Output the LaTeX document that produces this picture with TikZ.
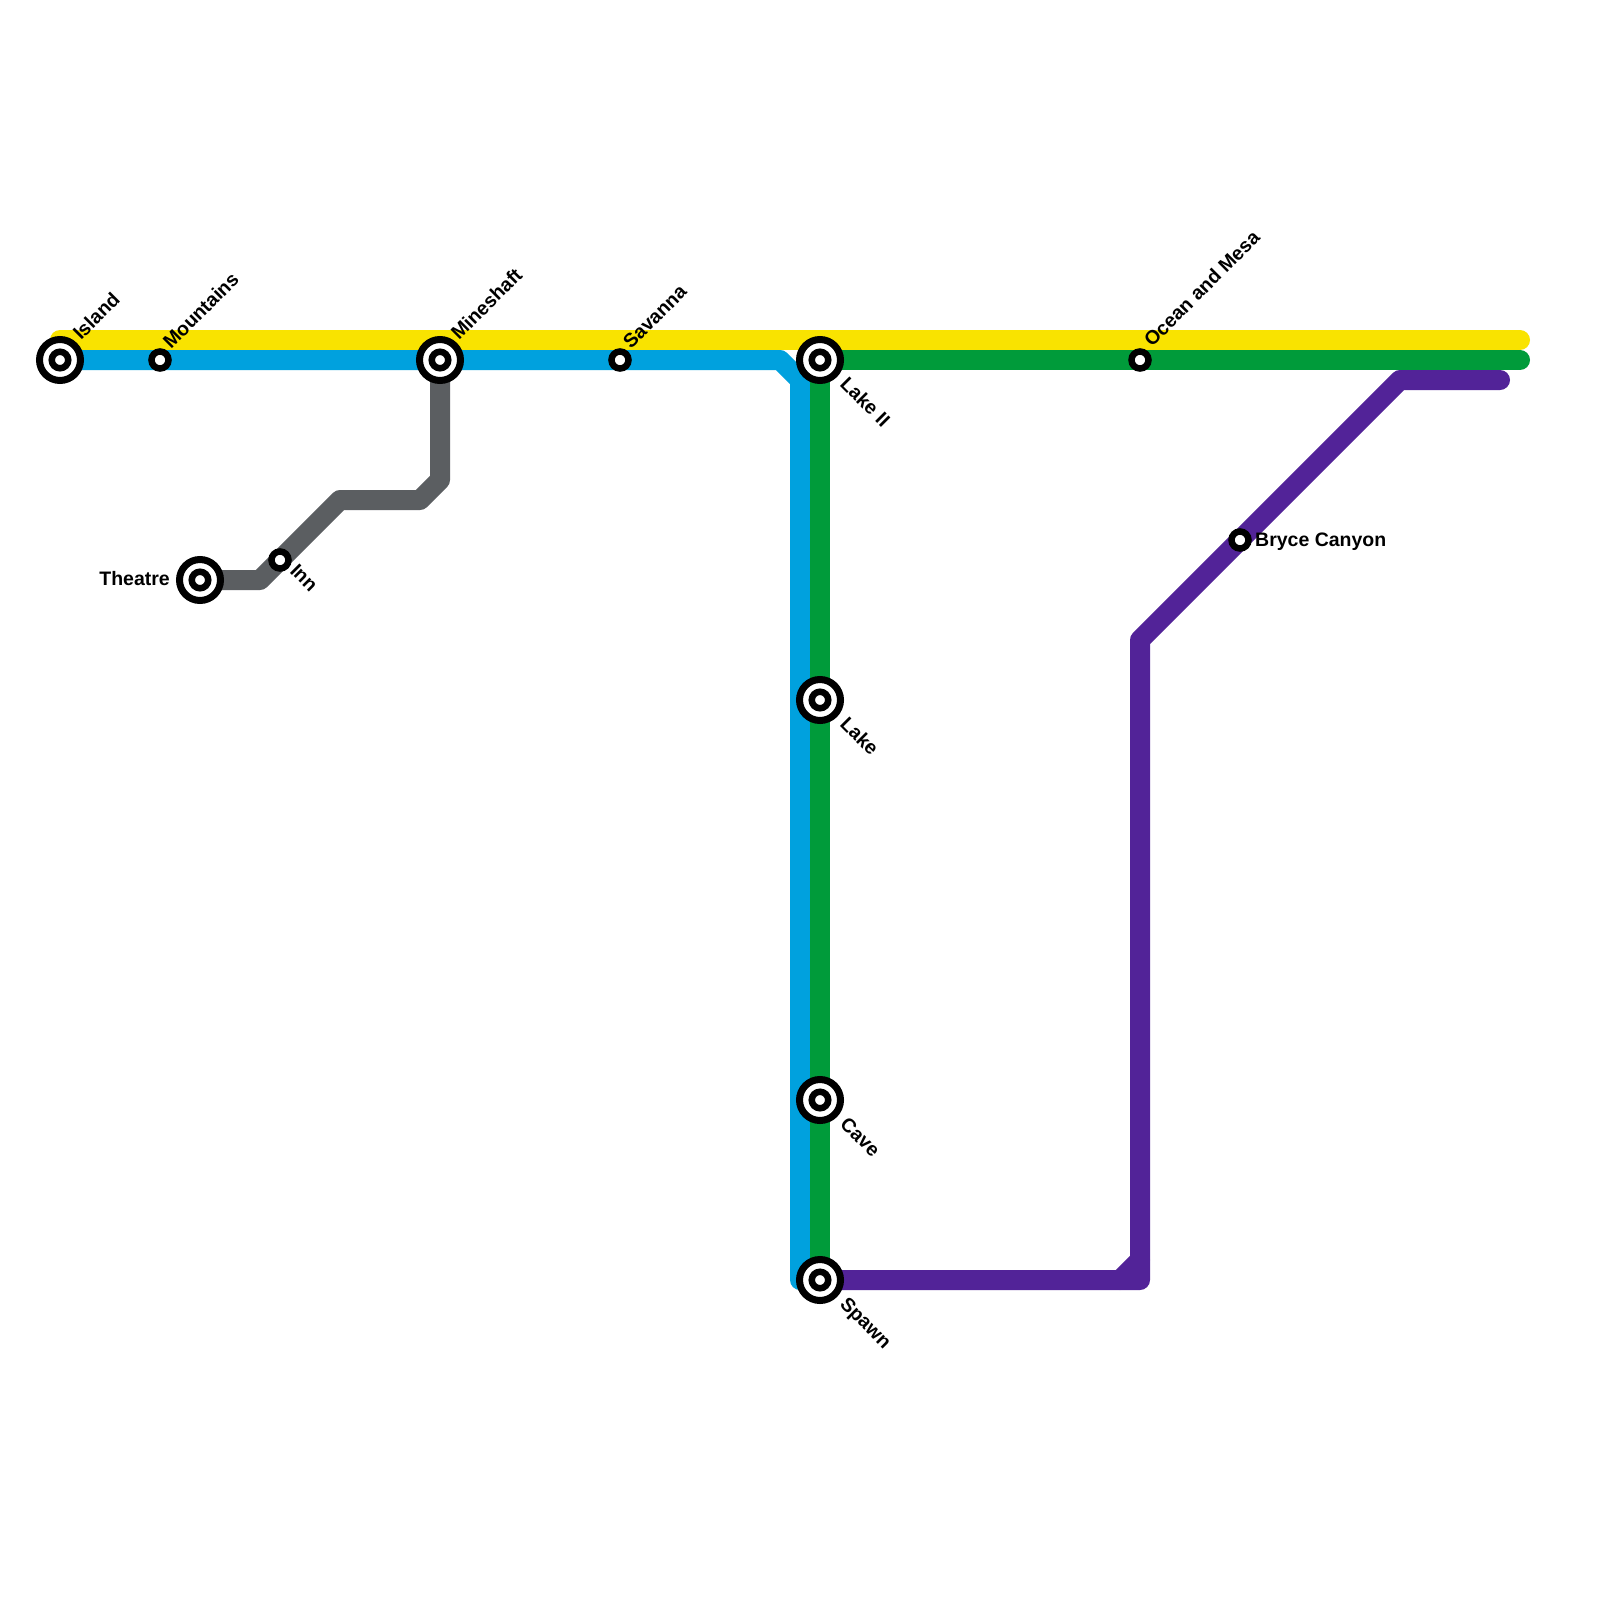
\documentclass[tikz,border=0pt]{standalone}
\usepackage{fontspec}
\setmainfont{Liberation Sans}
\definecolor{cyel}{HTML}{F9E300}
\definecolor{cblu}{HTML}{00A1DE}
\definecolor{cgrn}{HTML}{009B3A}
\definecolor{cpur}{HTML}{522398}
\definecolor{cgry}{HTML}{5B5E61}
\begin{document}
\begin{tikzpicture}[x=1pt,y=-1pt,
  line/.style={line width=20pt,line cap=round,line join=round},
  bigstop/.style={circle,draw,fill=white,line width=7pt,minimum size=41pt,inner sep=0pt},
  core/.style={circle,draw,fill=white,line width=6.5pt,minimum size=16.5pt,inner sep=0pt},
  stop/.style={circle,draw,fill=white,line width=6.5pt,minimum size=17pt,inner sep=0pt},
  lbl/.style={font=\bfseries\fontsize{19.5}{22}\selectfont,inner sep=0pt},
  lblup/.style={lbl,rotate=45,anchor=base west},
  lbldown/.style={lbl,rotate=-45,anchor=base west}]
\useasboundingbox[fill=white] (0,0) rectangle (1600,1600);
\coordinate (island) at (60,360);
\coordinate (mountains) at (160,360);
\coordinate (mineshaft) at (440,360);
\coordinate (savanna) at (620,360);
\coordinate (lakeii) at (820,360);
\coordinate (ocean) at (1140,360);
\coordinate (lake) at (820,700);
\coordinate (cave) at (820,1100);
\coordinate (spawn) at (820,1280);
\coordinate (theatre) at (200,580);
\coordinate (inn) at (280,560);
\coordinate (bryce) at (1240,540);
\coordinate (yw) at (60,340);
\coordinate (ye) at (1520,340);
\coordinate (ge) at (1520,360);
\coordinate (pe) at (1500,380);
\draw[line,cyel] (yw) -- (ye);
\draw[line,cblu] (island) -- (780,360) -- (800,380) -- (800,1280);
\draw[line,cgrn] (ge) -- (lakeii) -- (spawn);
\draw[line,cgry] (theatre) -- (260,580) -- (inn) -- (340,500) -- (420,500) -- (440,480) -- (mineshaft);
\draw[line,cpur] (spawn) -- (1140,1280) -- (1140,640) -- (bryce) -- (1400,380) -- (pe);
\draw[line,cpur] (1120,1280) -- (1140,1260);
\foreach \s in {island,mineshaft,lakeii,lake,cave,spawn,theatre}{
  \node[bigstop] (\s-o) at (\s) {};
  \node[core] (\s-i) at (\s) {};}
\foreach \s in {mountains,savanna,ocean,inn,bryce}
  \node[stop] (\s-i) at (\s) {};
\node[lblup] (island-l) at (81,341) {Island};
\node[lblup] (mountains-l) at (171,350) {Mountains};
\node[lblup] (mineshaft-l) at (459,341) {Mineshaft};
\node[lblup] (savanna-l) at (631,350) {Savanna};
\node[lblup] (ocean-l) at (1152,348) {Ocean and Mesa};
\node[lbldown] (lakeii-l) at (839,385) {Lake II};
\node[lbldown] (lake-l) at (839,725) {Lake};
\node[lbldown] (cave-l) at (839,1125) {Cave};
\node[lbldown] (spawn-l) at (839,1305) {Spawn};
\node[lbldown] (inn-l) at (289,572) {Inn};
\node[lbl,anchor=base east] (theatre-l) at (170,585) {Theatre};
\node[lbl,anchor=base west] (bryce-l) at (1255,546) {Bryce Canyon};
\end{tikzpicture}
\end{document}
